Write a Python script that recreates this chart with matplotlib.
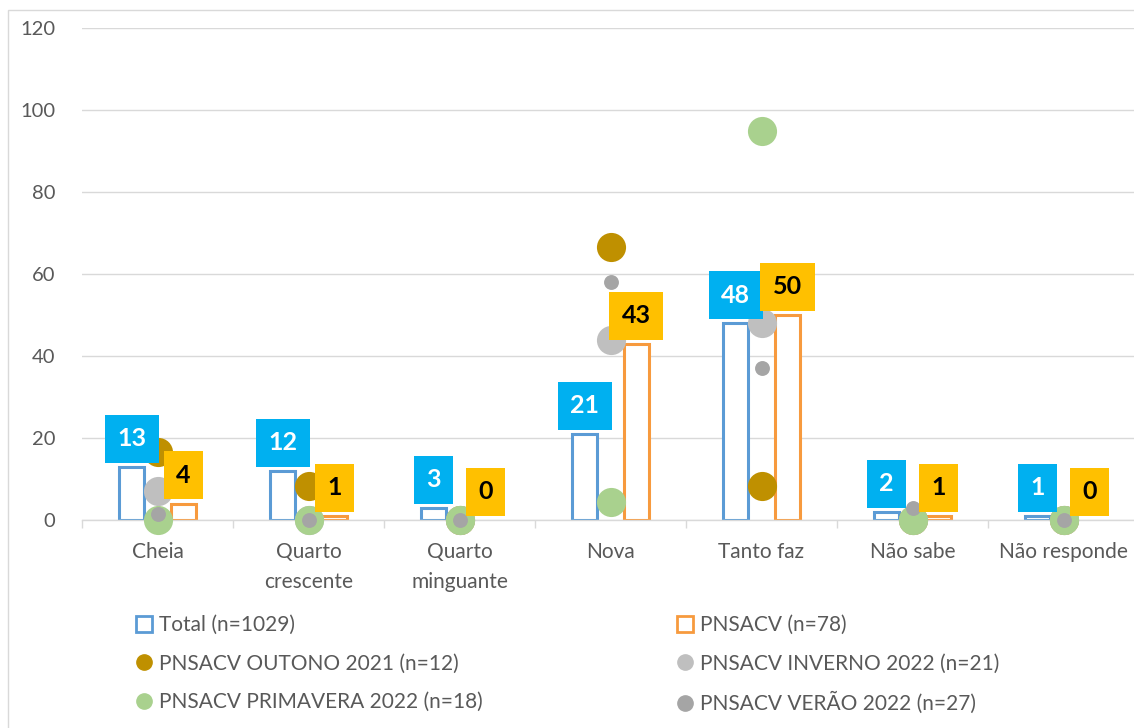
import matplotlib.pyplot as plt
import numpy as np
from matplotlib.lines import Line2D
from matplotlib.patches import Rectangle

plt.rcParams['font.family'] = ['Lato', 'DejaVu Sans']

# data (%)
categories = ['Cheia', 'Quarto\ncrescente', 'Quarto\nminguante', 'Nova',
              'Tanto faz', 'Não sabe', 'Não responde']
total = [13, 12, 3, 21, 48, 2, 1]
pnsacv = [4, 1, 0, 43, 50, 1, 0]
outono = [16.7, 8.3, 0, 66.7, 8.3, 0, 0]
inverno = [7, 0, 0, 44, 48, 0, 0]
primavera = [0, 0, 0, 4.5, 95, 0, 0]
verao = [1.5, 0, 0, 58, 37, 3, 0]

series_labels = ['Total (n=1029)', 'PNSACV (n=78)',
                 'PNSACV OUTONO 2021 (n=12)', 'PNSACV INVERNO 2022 (n=21)',
                 'PNSACV PRIMAVERA 2022 (n=18)', 'PNSACV VERÃO 2022 (n=27)']

c_total = '#5B9BD5'
c_pns = '#F79A3E'
c_out = '#BF9000'
c_inv = '#BFBFBF'
c_pri = '#A9D18E'
c_ver = '#A5A5A5'
grid_c = '#D9D9D9'
txt_c = '#595959'

fig = plt.figure(figsize=(11.34, 7.28), dpi=100)
ax = fig.add_axes([82 / 1134, 1 - 520 / 728, 1057 / 1134, 492 / 728])

x = np.arange(len(categories))
w = 0.17
off = 0.172

b1 = ax.bar(x - off, total, w, facecolor='white', edgecolor=c_total, linewidth=2.2, zorder=2)
b2 = ax.bar(x + off, pnsacv, w, facecolor='white', edgecolor=c_pns, linewidth=2.2, zorder=2)
for bars, vals in ((b1, total), (b2, pnsacv)):
    for b, v in zip(bars, vals):
        if v == 0:
            b.set_visible(False)

big = 440
small = 115
for vals, col, size in ((outono, c_out, big), (inverno, c_inv, big),
                        (primavera, c_pri, big), (verao, c_ver, small)):
    ax.scatter(x, vals, s=size, color=col, zorder=3, linewidths=0, clip_on=False)

# data labels
lab_kw = dict(textcoords='offset points', ha='center', va='bottom',
              fontsize=18, fontweight='bold', zorder=5, annotation_clip=False)
for xi, v in zip(x, total):
    ax.annotate(str(v), (xi - off, v), xytext=(0, 12), color='white',
                bbox=dict(boxstyle='square,pad=0.5', fc='#00B0F0', ec='none'), **lab_kw)
for xi, v in zip(x, pnsacv):
    ax.annotate(str(v), (xi + off, v), xytext=(0, 12), color='black',
                bbox=dict(boxstyle='square,pad=0.5', fc='#FFC000', ec='none'), **lab_kw)

ax.set_ylim(0, 120)
ax.set_xlim(-0.5, len(categories) - 0.5)
ax.set_yticks(np.arange(0, 121, 20))
ax.yaxis.grid(True, color=grid_c, linewidth=1)
ax.set_axisbelow(True)
for s in ['left', 'right', 'top']:
    ax.spines[s].set_visible(False)
ax.spines['bottom'].set_color(grid_c)
ax.spines['bottom'].set_linewidth(1)
ax.tick_params(axis='y', length=0, pad=19, labelsize=14.5, labelcolor=txt_c)

ax.set_xticks(x)
ax.set_xticklabels(categories, fontsize=15, color=txt_c, linespacing=1.6)
ax.set_xticks(np.arange(-0.5, len(categories), 1), minor=True)
ax.tick_params(axis='x', which='major', length=0, pad=16)
ax.tick_params(axis='x', which='minor', length=6, color=grid_c, width=1)

# legend
def sq(c):
    return Line2D([], [], marker='s', linestyle='none', markersize=11,
                  markerfacecolor='white', markeredgecolor=c, markeredgewidth=2)

def dot(c):
    return Line2D([], [], marker='o', linestyle='none', markersize=11,
                  markerfacecolor=c, markeredgecolor=c)

h1 = [sq(c_total), dot(c_out), dot(c_pri)]
h2 = [sq(c_pns), dot(c_inv), dot(c_ver)]
l1 = [series_labels[0], series_labels[2], series_labels[4]]
l2 = [series_labels[1], series_labels[3], series_labels[5]]
kw = dict(loc='upper left', frameon=False, fontsize=15, labelcolor=txt_c,
          handlelength=0.7, handletextpad=0.4, labelspacing=0.88, borderaxespad=0)
leg1 = fig.legend(h1, l1, bbox_to_anchor=(128 / 1134, 1 - 607 / 728), **kw)
leg2 = fig.legend(h2, l2, bbox_to_anchor=(669 / 1134, 1 - 607 / 728), **kw)

# chart border
fig.patches.append(Rectangle((8 / 1134, -0.1), 1.2, 1 - 10 / 728 + 0.1,
                             transform=fig.transFigure, fill=False,
                             edgecolor=grid_c, linewidth=1))

fig.savefig('out.png', dpi=100)
